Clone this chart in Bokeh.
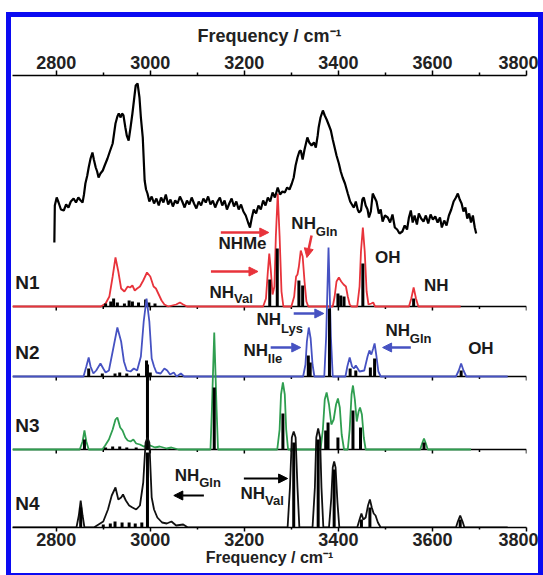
from bokeh.plotting import figure
from bokeh.models import Range1d, LinearAxis, FixedTicker, Span, Label, Arrow, NormalHead
from bokeh.embed import file_html
from bokeh.resources import INLINE

# ---------------- data ----------------
x_ticks = [2800, 3000, 3200, 3400, 3600, 3800]
x_minor = [2900, 3100, 3300, 3500, 3700]
panel_names = ["N1", "N2", "N3", "N4"]

exp_x = [2796, 2797, 2801, 2805, 2810, 2816, 2821, 2826, 2831, 2837, 2842, 2847, 2852, 2856, 2859,
         2862, 2866, 2869, 2873, 2877, 2880, 2884, 2887, 2890, 2894, 2899, 2903, 2909, 2914, 2920,
         2923, 2926, 2930, 2933, 2937, 2940, 2943, 2947, 2950, 2954, 2958, 2962, 2966, 2969, 2973,
         2977, 2980, 2984, 2988, 2991, 2994,
         2998, 3003, 3008, 3013, 3018, 3023, 3028, 3033, 3038, 3043, 3048, 3053, 3058, 3063, 3068,
         3073, 3078, 3083, 3088, 3093, 3098, 3103, 3108, 3113, 3118, 3123, 3128, 3133, 3138, 3143,
         3148, 3153, 3158, 3163, 3168, 3173, 3178, 3183, 3188, 3193, 3198,
         3203, 3208, 3212, 3216, 3220, 3225, 3230, 3235, 3240, 3245, 3250, 3255, 3260, 3265, 3271,
         3276, 3281, 3286, 3291, 3296, 3301, 3305, 3309, 3313, 3317, 3320, 3324, 3328, 3334, 3338,
         3343, 3348, 3352, 3356, 3358, 3362, 3367, 3371, 3375, 3380, 3384, 3388, 3392, 3396, 3401,
         3405, 3409, 3414, 3420, 3425, 3430, 3433, 3437, 3441, 3444, 3448, 3451, 3454, 3458, 3462,
         3465, 3469, 3473, 3477, 3481, 3486, 3490, 3494, 3499, 3505, 3510, 3515, 3520, 3525, 3530,
         3536, 3541, 3546, 3550, 3554, 3558, 3562, 3567, 3571, 3576, 3581, 3586, 3591, 3596, 3601,
         3606, 3611, 3616, 3620, 3625, 3630, 3635, 3640, 3645, 3650, 3654, 3658, 3662, 3666, 3670,
         3674, 3678, 3682, 3686, 3690, 3693]
exp_int = [5, 42, 50, 45, 38, 37, 43, 40, 46, 49, 45, 50, 47, 45, 53,
           64, 72, 80, 89, 95, 88, 80, 76, 70, 74, 77, 82, 89, 96, 104,
           114, 124, 131, 134, 130, 134, 132, 120, 112, 107, 120, 134, 150, 162, 164,
           150, 130, 110, 67, 58, 54,
           46, 51, 44, 49, 42, 50, 45, 53, 43, 48, 41, 47, 44, 51, 46,
           40, 47, 43, 50, 44, 39, 46, 42, 49, 45, 51, 43, 47, 40, 46,
           50, 42, 47, 38, 44, 49, 41, 46, 38, 43, 36,
           32, 25, 20, 30, 38, 34, 42, 38, 47, 42, 50, 46, 55, 50, 60,
           53, 56, 55, 60, 58, 64, 70, 82, 90, 96, 97, 88, 98, 110, 105,
           102, 105, 100, 112, 120, 130, 137, 132, 128, 122, 117, 108, 100, 92, 84,
           76, 70, 64, 54, 46, 42, 40, 46, 38, 35, 37, 48, 50, 42, 38,
           30, 36, 54, 50, 46, 34, 38, 26, 32, 30, 25, 33, 20, 18, 14,
           16, 22, 18, 30, 37, 25, 32, 23, 34, 29, 26, 32, 24, 33, 28,
           31, 25, 30, 20, 27, 22, 32, 38, 46, 50, 54, 48, 44, 36, 40,
           29, 34, 25, 32, 20, 14]

n1_x = [2707, 2895, 2905, 2913, 2920, 2926, 2932, 2938, 2945, 2952, 2957, 2962, 2967, 2972, 2978,
        2985, 2993, 3000, 3007, 3012, 3018, 3024, 3030, 3038, 3055, 3063, 3070, 3078, 3240, 3246,
        3250, 3253, 3256, 3260, 3264, 3267, 3271, 3275, 3279, 3283, 3300, 3306, 3310, 3313, 3316,
        3320, 3324, 3328, 3332, 3336, 3388, 3392, 3396, 3401, 3406, 3411, 3416, 3420, 3424, 3428,
        3440, 3445, 3448, 3452, 3456, 3460, 3464, 3470, 3474, 3478, 3550, 3555, 3560, 3565, 3570, 3660]
n1_y = [0, 0, 3, 10, 30, 49, 35, 18, 15, 20, 19, 21, 16, 18, 20,
        26, 34, 30, 20, 18, 12, 6, 2, 0, 2, 4, 2, 0, 0, 8,
        35, 53, 38, 12, 20, 70, 113, 70, 15, 0, 0, 10, 30, 32, 40,
        56, 50, 25, 5, 0, 0, 10, 25, 29, 25, 22, 20, 10, 2, 0,
        0, 20, 55, 79, 55, 15, 2, 3, 4, 0, 0, 8, 19, 8, 0, 0]
n1_sx = [2905, 2916, 2922, 2930, 2945, 2955, 2962, 2975, 2990, 2997, 3010, 3254, 3270, 3316, 3324,
         3399, 3405, 3412, 3452, 3560]
n1_sh = [3, 5, 8, 4, 3, 6, 5, 4, 7, 4, 3, 27, 58, 26, 21, 13, 11, 10, 43, 8]

n2_x = [2707, 2858, 2864, 2869, 2873, 2879, 2885, 2894, 2900, 2905, 2912, 2920, 2930, 2938, 2944,
        2950, 2958, 2965, 2972, 2980, 2986, 2992, 2998, 3003, 3008, 3013, 3022, 3030, 3036, 3042,
        3050, 3056, 3065, 3072, 3325, 3330, 3333, 3337, 3341, 3345, 3349, 3370, 3374, 3379, 3384,
        3388, 3415, 3419, 3424, 3429, 3433, 3437, 3441, 3445, 3455, 3462, 3466, 3470, 3474, 3477,
        3481, 3485, 3490, 3650, 3656, 3661, 3666, 3672, 3760]
n2_y = [0, 0, 10, 19, 10, 3, 6, 13, 8, 4, 6, 25, 49, 35, 15,
        6, 5, 8, 6, 20, 55, 78, 55, 18, 10, 4, 3, 8, 6, 2,
        4, 0, 3, 0, 0, 12, 35, 49, 38, 12, 0, 0, 40, 129, 40,
        0, 0, 10, 19, 10, 8, 11, 8, 5, 6, 20, 26, 22, 28, 33,
        20, 5, 0, 0, 6, 13, 6, 0, 0]
n2_sx = [2869, 2898, 2925, 2935, 2950, 2975, 2992, 3000, 3336, 3340, 3381, 3425, 3437, 3468, 3477, 3661]
n2_sh = [8, 3, 3, 4, 3, 3, 16, 4, 21, 14, 68, 8, 6, 9, 18, 6]

n3_x = [2707, 2850, 2856, 2860, 2864, 2869, 2898, 2904, 2912, 2920, 2926, 2930, 2936, 2941, 2947,
        2952, 2958, 2964, 2970, 2978, 2986, 3000, 3010, 3020, 3035, 3045, 3060, 3128, 3131, 3136,
        3141, 3144, 3270, 3275, 3278, 3282, 3286, 3289, 3293, 3362, 3367, 3371, 3375, 3380, 3385,
        3390, 3395, 3399, 3403, 3407, 3412, 3420, 3424, 3428, 3431, 3435, 3439, 3443, 3446, 3450,
        3454, 3458, 3574, 3578, 3582, 3586, 3590, 3682]
n3_y = [0, 0, 8, 19, 8, 0, 0, 4, 10, 20, 30, 32, 22, 19, 12,
        9, 8, 10, 6, 5, 3, 4, 2, 3, 1, 2, 0, 0, 40, 117,
        40, 0, 0, 20, 55, 67, 55, 20, 0, 0, 20, 50, 57, 45, 25,
        30, 45, 51, 42, 15, 0, 0, 20, 55, 64, 50, 28, 38, 42, 35,
        12, 0, 0, 6, 11, 6, 0, 0]
n3_sx = [2860, 2905, 2920, 2935, 2950, 2970, 2994, 3136, 3282, 3373, 3378, 3399, 3431, 3447, 3582]
n3_sh = [10, 2, 3, 3, 2, 2, 85, 62, 36, 19, 27, 12, 39, 22, 7]

n4_x = [2707, 2843, 2848, 2852, 2856, 2860, 2880, 2890, 2900, 2910, 2918, 2926, 2932, 2938, 2942,
        2948, 2955, 2962, 2970, 2978, 2985, 2990, 2994, 2998, 3003, 3008, 3015, 3025, 3035, 3045,
        3055, 3070, 3080, 3292, 3297, 3301, 3305, 3309, 3313, 3317, 3345, 3350, 3353, 3357, 3361,
        3364, 3368, 3380, 3385, 3388, 3391, 3394, 3398, 3402, 3440, 3445, 3449, 3453, 3458, 3463,
        3467, 3471, 3475, 3479, 3484, 3490, 3650, 3654, 3659, 3664, 3668, 3760]
n4_y = [0, 0, 12, 27, 12, 0, 0, 3, 6, 18, 32, 40, 28, 30, 33,
        27, 22, 20, 18, 22, 45, 85, 90, 85, 30, 18, 10, 5, 4, 6,
        2, 3, 0, 0, 40, 90, 96, 90, 40, 0, 0, 40, 90, 99, 90,
        40, 0, 0, 30, 60, 66, 60, 25, 0, 0, 8, 14, 8, 10, 22,
        28, 20, 14, 12, 5, 0, 0, 6, 12, 6, 0, 0]
n4_sx = [2852, 2900, 2915, 2925, 2940, 2955, 2968, 2982, 2994, 3305, 3357, 3391, 3449, 3467, 3659]
n4_sh = [20, 3, 4, 6, 5, 5, 4, 5, 75, 85, 88, 58, 8, 20, 8]

# ---------------- layout / style ----------------
EXP_OFF = 280
OFFS = [221, 151, 78, 0]
COLORS = ["#e8333b", "#4652c2", "#2f9e50", "#111111"]
FONT = "Liberation Sans"

p = figure(width=527, height=556, x_range=Range1d(2707, 3800), y_range=Range1d(0, 452),
           output_backend="svg", toolbar_location=None,
           x_axis_location=None, y_axis_location=None,
           min_border_left=1, min_border_right=12, min_border_top=58, min_border_bottom=46,
           background_fill_color="white", border_fill_color="white", outline_line_color=None,
           styles={"outline": "5px solid #0b0bf2"})
p.margin = (17, 0, 0, 11)
p.grid.visible = False


def make_axis(tick_out, minor_out, lab_stand, title_stand, title_size):
    return LinearAxis(
        ticker=FixedTicker(ticks=x_ticks, minor_ticks=x_minor),
        axis_label="Frequency / cm\u207b\u00b9",
        axis_label_text_font=FONT, axis_label_text_font_style="bold",
        axis_label_text_font_size=title_size, axis_label_standoff=title_stand,
        major_label_text_font=FONT, major_label_text_font_style="bold",
        major_label_text_font_size="18px", major_label_standoff=lab_stand,
        major_label_text_color="#222222", axis_label_text_color="#222222",
        major_tick_in=0, major_tick_out=tick_out, minor_tick_in=0, minor_tick_out=minor_out,
        axis_line_width=1.5, major_tick_line_width=1.5, minor_tick_line_width=1.5)


p.add_layout(make_axis(5, 3, 2, 7, "18px"), "above")
p.add_layout(make_axis(4, 2, 1, 0, "16px"), "below")

# separator lines with downward ticks
for off in OFFS[:3]:
    p.add_layout(Span(location=off, dimension="width", line_color="black", line_width=1.5,
                      level="underlay"))
    p.segment(x0=x_ticks, y0=[off] * len(x_ticks), x1=x_ticks, y1=[off - 4] * len(x_ticks),
              line_color="black", line_width=1.5)
    p.segment(x0=x_minor, y0=[off] * len(x_minor), x1=x_minor, y1=[off - 2.5] * len(x_minor),
              line_color="black", line_width=1.5)

curves = [(n1_x, n1_y, n1_sx, n1_sh), (n2_x, n2_y, n2_sx, n2_sh),
          (n3_x, n3_y, n3_sx, n3_sh), (n4_x, n4_y, n4_sx, n4_sh)]
for (cx, cy, sx, sh), off, col in zip(curves, OFFS, COLORS):
    p.line(cx, [v + off for v in cy], line_color=col, line_width=1.8)
    p.segment(x0=sx, y0=[off] * len(sx), x1=sx, y1=[off + h for h in sh],
              line_color="black", line_width=3)

p.line(exp_x, [v + EXP_OFF for v in exp_int], line_color="black", line_width=2.2)

# panel names
for name, off in zip(panel_names, OFFS):
    p.add_layout(Label(x=2713, y=off + 24, text=name, text_font=FONT, text_font_style="bold",
                       text_font_size="19px", text_baseline="middle", text_align="left",
                       text_color="#1a1a1a"))


def lab(x, y, t, size="17px", align="left"):
    p.add_layout(Label(x=x, y=y, text=t, text_font=FONT, text_font_style="bold",
                       text_font_size=size, text_baseline="middle", text_align=align,
                       text_color="#1a1a1a"))


def arrow(x0, y0, x1, y1, col, w=2.5):
    p.add_layout(Arrow(end=NormalHead(size=9, fill_color=col, line_color=col),
                       x_start=x0, y_start=y0, x_end=x1, y_end=y1,
                       line_color=col, line_width=w))


red, blue = COLORS[0], COLORS[1]
# N1 annotations
lab(3196, 284, "NHMe", align="center")
arrow(3150, 295, 3252, 295, red)
lab(3126, 235, "NH")
lab(3178, 229, "Val", size="13px")
arrow(3129, 256, 3229, 256, red)
lab(3300, 304, "NH")
lab(3352, 296, "Gln", size="13px")
arrow(3343, 292, 3333, 270, red)
lab(3505, 270, "OH", align="center")
lab(3608, 242, "NH", align="center")
# N2 annotations
lab(3226, 208, "NH")
lab(3278, 199, "Lys", size="13px")
arrow(3305, 214, 3369, 214, blue)
lab(3198, 177, "NH")
lab(3250, 169, "Ile", size="13px")
arrow(3256, 180, 3320, 180, blue)
lab(3500, 197, "NH")
lab(3552, 189, "Gln", size="13px")
arrow(3554, 180, 3494, 180, blue)
lab(3703, 179, "OH", align="center")
# N4 annotations
lab(3052, 52, "NH")
lab(3104, 45, "Gln", size="13px")
arrow(3114, 32, 3050, 32, "black", 2)
lab(3192, 34, "NH")
lab(3244, 27, "Val", size="13px")
arrow(3199, 49, 3292, 49, "black", 2)

open("out.html", "w").write(file_html(p, INLINE))
